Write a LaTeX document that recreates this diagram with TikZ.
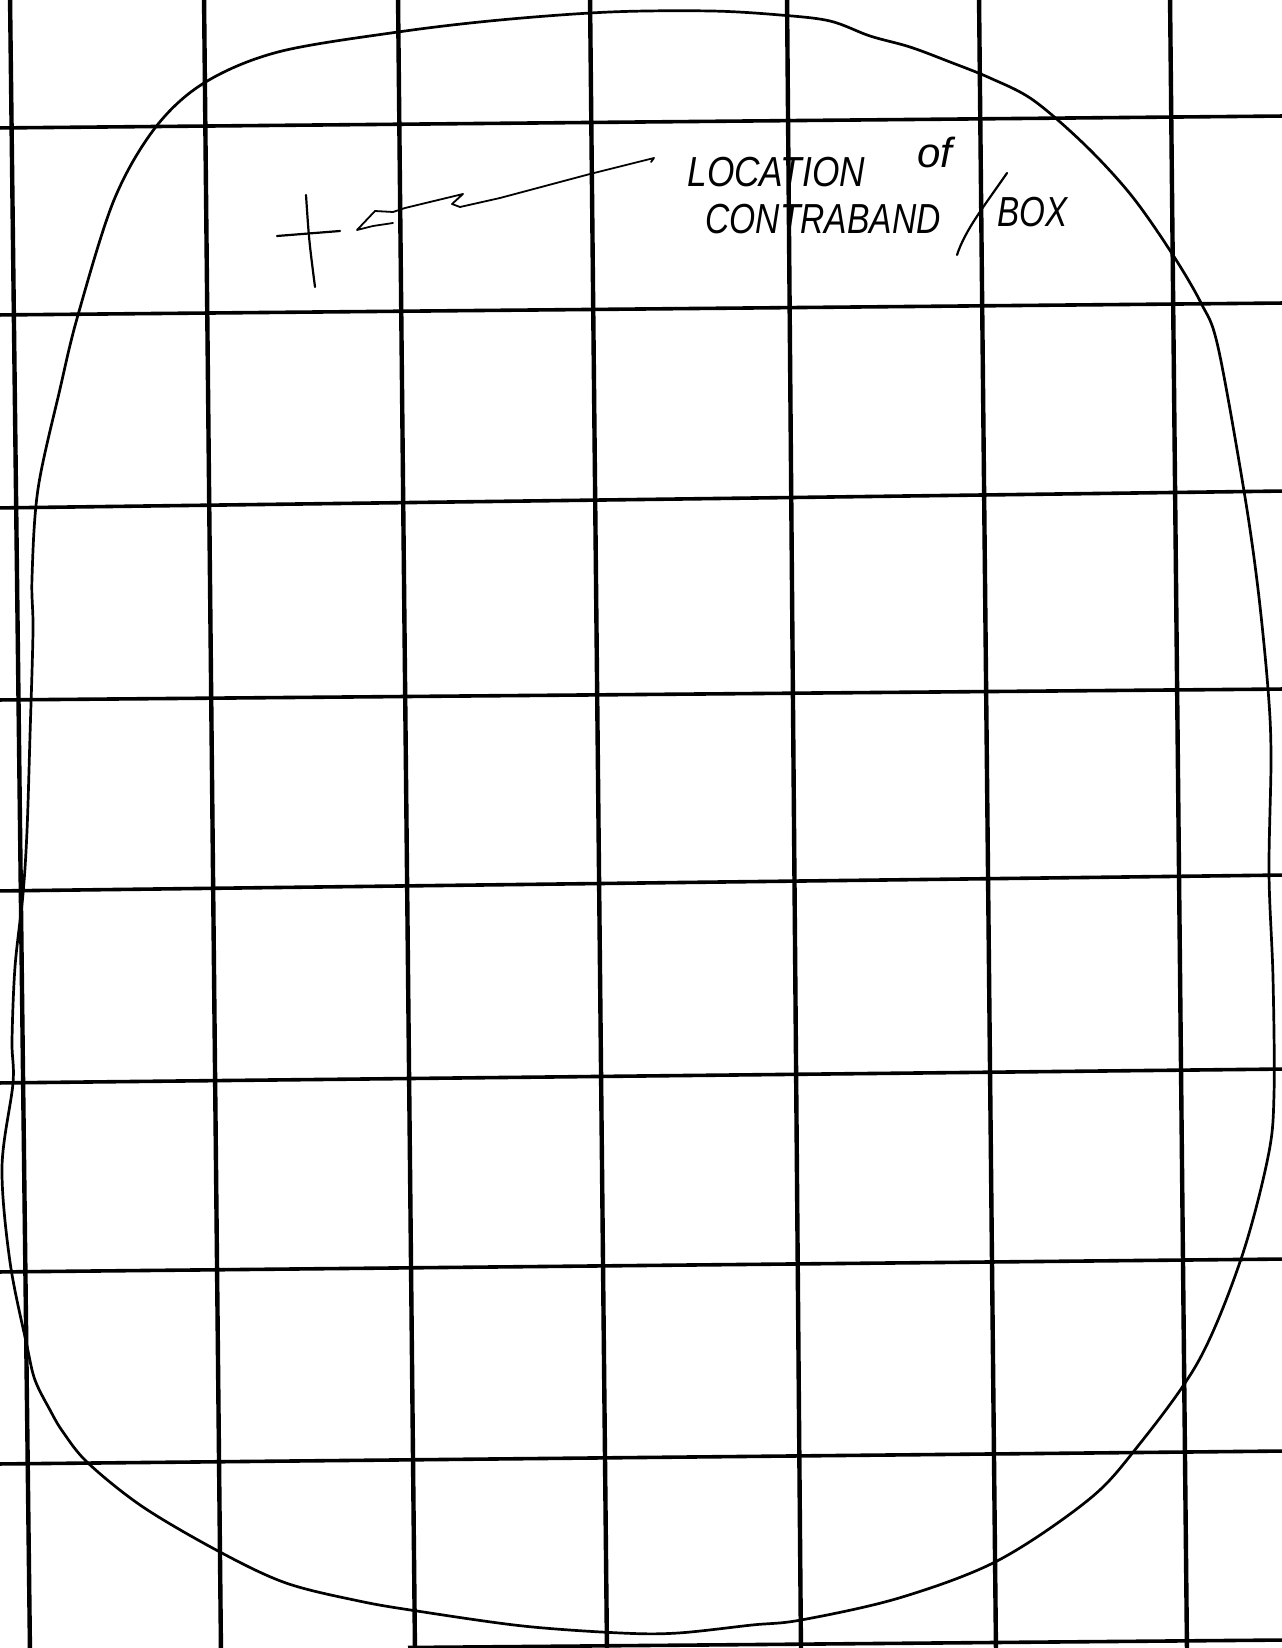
\documentclass[tikz,border=0pt]{standalone}
\usepackage{fontspec}
\setmainfont{Liberation Sans}
\begin{document}
\begin{tikzpicture}[x=0.5pt,y=-0.5pt,
  vline/.style={line width=2.2pt,black},
  hline/.style={line width=1.8pt,black},
  outline/.style={line width=1.35pt,black,line join=round},
  pen/.style={line width=0.9pt,black,line cap=round,line join=round},
  hand/.style={inner sep=0pt,font=\fontsize{21}{21}\selectfont\itshape}]
\fill[white] (0,0) rectangle (1281,1648);
\useasboundingbox (0,0) rectangle (1281,1648);
% grid: vertical lines
\foreach \a/\b in {10/30,204/221,398/415,590/607,787/801,979/996,1170/1187}
  \draw[vline] (\a,-5) -- (\b,1653);
% grid: horizontal lines
\foreach \a/\b in {128/116,315/303,508/491,700/689,891/875,1083/1069,1272/1259,1464/1451}
  \draw[hline] (-5,\a) -- (1286,\b);
\draw[hline] (408,1647.5) -- (1286,1640);
% outline of area
\draw[outline] plot[smooth cycle,tension=0.55] coordinates {
 (610,12) (711,11) (780,15) (830,21) (870,36) (910,47) (950,62) (990,78) (1033,100)
 (1085,145) (1131,195)
 (1171,252) (1201,303) (1218,347) (1244,491) (1258,589) (1268,689) (1271,757)
 (1269,873) (1273,978) (1274,1094) (1268,1157) (1241,1259) (1198,1362) (1134,1451)
 (1087,1501) (997,1561) (899,1598) (801,1620) (752,1625) (678,1633) (621,1633)
 (523,1626) (417,1611) (359,1601) (286,1583) (220,1552) (143,1507) (88,1463)
 (63,1432) (50,1410) (35,1380) (27,1346) (10,1262) (2,1167) (13,1083) (12,1041)
 (15,967) (23,894)
 (27,831) (30,736) (33,631) (32,578) (38,489) (60,389) (78,315) (114,200)
 (155,128) (204,83) (278,52) (398,32) (500,20)};
% cross mark
\coordinate (xl) at (277,236); \coordinate (xr) at (340,231);
\coordinate (xt) at (306,195); \coordinate (xb) at (315,287);
\draw[pen,line width=1.1pt] (xl) -- (xr);
\draw[pen,line width=1.1pt] (xt) .. controls (309,240) .. (xb);
% arrow pointing to cross
\coordinate (tip) at (357,230);
\draw[pen] (393,223) -- (373,226) -- (tip) -- (375,211) -- (393,212) -- (405,208)
  -- (463,194) -- (452,204) -- (460,207) -- (500,198) -- (590,174) -- (654,158)
  -- (651,162);
% labels
\node[hand,anchor=base west] (loc) at (687,187) {\scalebox{0.84}[1]{LOCATION}};
\node[hand,anchor=base west] (of) at (917,168) {of};
\node[hand,anchor=base west] (con) at (705,234) {\scalebox{0.8}[1]{CONTRABAND}};
\draw[pen,line width=1.1pt] (1007,173) .. controls (985,205) and (965,230) .. (957,255);
\node[hand,anchor=base west] (box) at (997,227) {\scalebox{0.79}[1]{BOX}};
\end{tikzpicture}
\end{document}
